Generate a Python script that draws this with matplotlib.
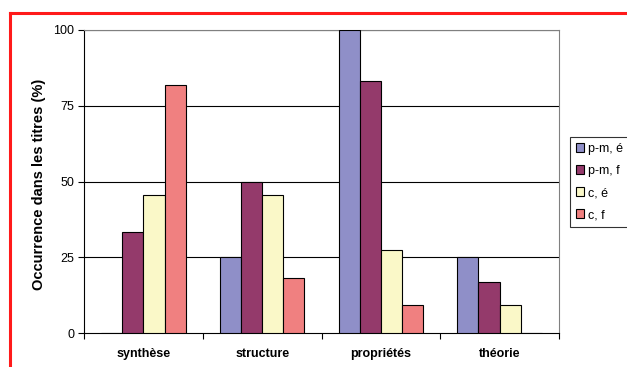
import matplotlib
matplotlib.use("Agg")
import matplotlib.pyplot as plt
import numpy as np
from matplotlib.lines import Line2D

plt.rcParams['font.family'] = ['Liberation Sans', 'DejaVu Sans']

categories = ["synthèse", "structure", "propriétés", "théorie"]
series_names = ["p-m, é", "p-m, f", "c, é", "c, f"]
pm_e = [0, 25, 100, 25]
pm_f = [33.3, 50, 83.3, 16.7]
c_e = [45.5, 45.5, 27.3, 9.1]
c_f = [81.8, 18.2, 9.1, 0]
yticks = [0, 25, 50, 75, 100]

colors = ["#8F8FC8", "#943A6B", "#FAF8C8", "#F08080"]
series = [pm_e, pm_f, c_e, c_f]

W, H = 627, 367
fig = plt.figure(figsize=(W / 100, H / 100), dpi=100)
ax = fig.add_axes([84 / W, 1 - 333 / H, (559 - 84) / W, (333 - 30) / H])

x = np.arange(len(categories))
bw = 0.178
for i, (vals, col, name) in enumerate(zip(series, colors, series_names)):
    ax.bar(x + (i - 1.5) * bw, vals, width=bw, color=col, edgecolor="black",
           linewidth=0.8, label=name, zorder=3)

ax.set_xlim(-0.5, len(categories) - 0.5)
ax.set_ylim(0, 100)
ax.set_yticks(yticks)
ax.set_yticklabels([str(t) for t in yticks], fontsize=9)
for t in yticks[1:]:
    ax.axhline(t, color="black", linewidth=0.8, zorder=1)

ax.set_xticks(x)
ax.set_xticklabels(categories, fontsize=9, fontweight="bold")
ax.tick_params(axis="x", length=0, pad=11)
ax.set_xticks(np.arange(-0.5, len(categories) + 0.5, 1), minor=True)
ax.tick_params(axis="x", which="minor", length=4, direction="out", width=0.8)
ax.tick_params(axis="y", length=4, direction="out", width=0.8, pad=3)

ax.spines["left"].set_color("black")
ax.spines["bottom"].set_color("black")
ax.spines["top"].set_color("#808080")
ax.spines["right"].set_color("#808080")
for s in ax.spines.values():
    s.set_linewidth(0.8)

ax.set_ylabel("Occurrence dans les titres (%)", fontsize=10.5, fontweight="bold")
ax.yaxis.set_label_coords(46 / W, 1 - 184 / H, transform=fig.transFigure)

leg = ax.legend(loc="center left", bbox_to_anchor=(570 / W, 1 - 182 / H),
                bbox_transform=fig.transFigure, fontsize=9, frameon=True,
                fancybox=False, edgecolor="black", handlelength=0.65,
                handleheight=0.65, handletextpad=0.3, labelspacing=0.8,
                borderpad=0.45, borderaxespad=0)
leg.get_frame().set_linewidth(0.8)

# red frame around the figure
fig.add_artist(Line2D([9.5 / W, 1], [1 - 12.5 / H, 1 - 12.5 / H],
                      transform=fig.transFigure, color="#FF1A1A", linewidth=2.2))
fig.add_artist(Line2D([9.5 / W, 9.5 / W], [0, 1 - 12.5 / H],
                      transform=fig.transFigure, color="#FF1A1A", linewidth=2.2))

fig.savefig("out.png", dpi=100)
